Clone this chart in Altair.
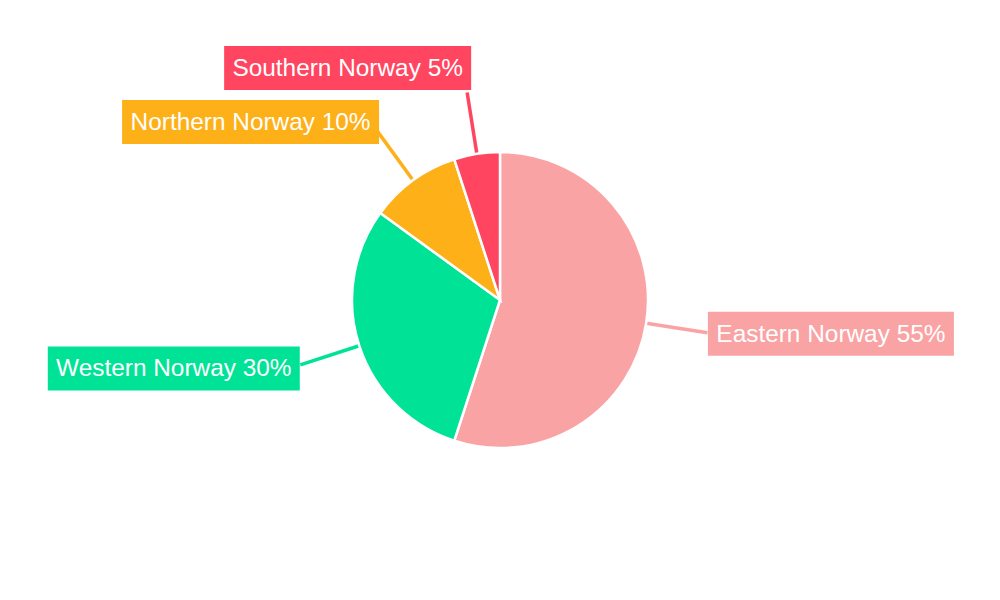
import math
import altair as alt
import pandas as pd

# ---- data ----
regions = ["Eastern Norway", "Western Norway", "Northern Norway", "Southern Norway"]
shares = [55, 30, 10, 5]
colors = ["#F9A3A4", "#00E396", "#FEB019", "#FF4560"]

# ---- layout (screen pixels) ----
W, H = 984, 584
CX, CY = 8 + W / 2, 8 + H / 2
R = 148
R_LABEL = 210
BOX_W = [246, 252, 257, 247]
BOX_H = 44
NUDGE_X = [0.5, -0.5, 2.5, 4]
NUDGE_Y = [1, 3.5, -8, -24.5]

rows = []
total = sum(shares)
cum = 0
for i, (reg, v) in enumerate(zip(regions, shares)):
    mid = (cum + v / 2) / total * 2 * math.pi
    cum += v
    s, c = math.sin(mid), math.cos(mid)
    x1, y1 = CX + R * s, CY - R * c
    ax, ay = CX + R_LABEL * s + NUDGE_X[i], CY - R_LABEL * c + NUDGE_Y[i]
    if s >= 0:
        bx1, bx2 = ax, ax + BOX_W[i]
    else:
        bx1, bx2 = ax - BOX_W[i], ax
    rows.append(dict(region=reg, value=v, idx=i,
                     label=f"{reg} {v}%",
                     lx1=x1, ly1=y1, lx2=CX + R_LABEL * s, ly2=CY - R_LABEL * c,
                     bx1=bx1, bx2=bx2, by1=ay - BOX_H / 2, by2=ay + BOX_H / 2,
                     tx=(bx1 + bx2) / 2, ty=ay + 1))
df = pd.DataFrame(rows)

xs = alt.Scale(domain=[8, 8 + W], nice=False, zero=False)
ys = alt.Scale(domain=[8, 8 + H], nice=False, zero=False, reverse=True)
col = alt.Color("region:N", scale=alt.Scale(domain=regions, range=colors), legend=None)

base = alt.Chart(df)

pie = base.mark_arc(outerRadius=R, stroke="white", strokeWidth=2.5).encode(
    theta=alt.Theta("value:Q", stack=True),
    color=col,
    order=alt.Order("idx:Q"),
)

lines = base.mark_rule(strokeWidth=3.5).encode(
    x=alt.X("lx1:Q", scale=xs, axis=None),
    y=alt.Y("ly1:Q", scale=ys, axis=None),
    x2="lx2:Q",
    y2="ly2:Q",
    color=col,
)

boxes = base.mark_rect().encode(
    x=alt.X("bx1:Q", scale=xs, axis=None),
    x2="bx2:Q",
    y=alt.Y("by1:Q", scale=ys, axis=None),
    y2="by2:Q",
    color=col,
)

texts = base.mark_text(font="Liberation Sans", fontSize=24.4, color="white",
                       align="center", baseline="middle").encode(
    x=alt.X("tx:Q", scale=xs, axis=None),
    y=alt.Y("ty:Q", scale=ys, axis=None),
    text="label:N",
)

chart = alt.layer(lines, pie, boxes, texts).properties(
    width=W, height=H,
    autosize=alt.AutoSizeParams(type="none"),
    padding=0,
).configure_view(stroke=None)

chart.save("out.html", embed_options={"renderer": "svg", "actions": False})
